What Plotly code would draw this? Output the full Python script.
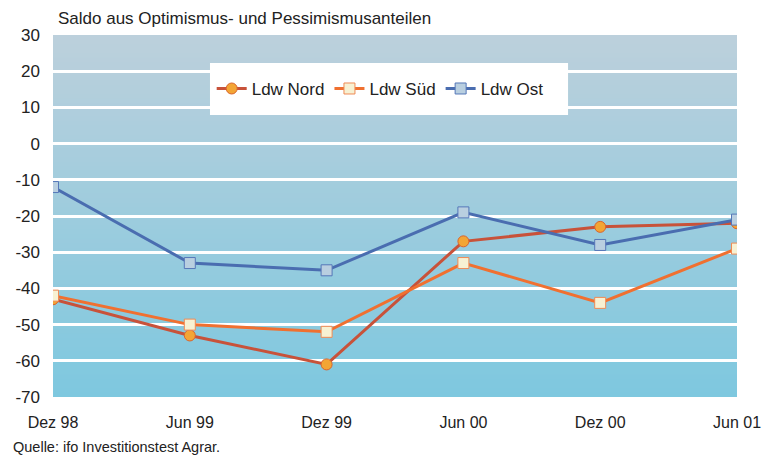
import plotly.graph_objects as go

categories = ["Dez 98", "Jun 99", "Dez 99", "Jun 00", "Dez 00", "Jun 01"]
nord = [-43, -53, -61, -27, -23, -22]
sued = [-42, -50, -52, -33, -44, -29]
ost = [-12, -33, -35, -19, -28, -21]
y_ticks = [30, 20, 10, 0, -10, -20, -30, -40, -50, -60, -70]
y_tick_labels = [str(v) for v in y_ticks]

fig = go.Figure()

fig.add_trace(go.Scatter(
    x=categories, y=nord, name="Ldw Nord", mode="lines+markers",
    line=dict(color="#c8523a", width=3),
    marker=dict(symbol="circle", size=11, color="#f3a535",
                line=dict(color="#d9642e", width=1)),
))
fig.add_trace(go.Scatter(
    x=categories, y=sued, name="Ldw Süd", mode="lines+markers",
    line=dict(color="#f07030", width=3),
    marker=dict(symbol="square", size=11, color="#f7f1d3",
                line=dict(color="#ef8a55", width=1)),
))
fig.add_trace(go.Scatter(
    x=categories, y=ost, name="Ldw Ost", mode="lines+markers",
    line=dict(color="#4a6db0", width=3),
    marker=dict(symbol="square", size=11, color="#b9cfe0",
                line=dict(color="#5577b8", width=1)),
))

# vertical gradient background for the plot area (stacked, overlapping rects -> no seams)
top = (188, 208, 220)
bot = (126, 200, 223)
n = 80
shapes = []
for i in range(n):
    t = i / (n - 1)
    c = tuple(round(top[k] + (bot[k] - top[k]) * t) for k in range(3))
    shapes.append(dict(
        type="rect", xref="paper", yref="paper",
        x0=0, x1=1, y0=0, y1=1 - i / n,
        fillcolor="rgb(%d,%d,%d)" % c, line=dict(width=0), layer="below",
    ))
# white legend panel
shapes.append(dict(
    type="rect", xref="paper", yref="paper",
    x0=0.2295, x1=0.753, y0=0.779, y1=0.9227,
    fillcolor="white", line=dict(width=0), layer="between",
))

fig.update_layout(
    width=773, height=458,
    margin=dict(l=53, r=36, t=35, b=61),
    paper_bgcolor="white",
    plot_bgcolor="rgba(0,0,0,0)",
    shapes=shapes,
    font=dict(family="Liberation Sans, Arial, sans-serif", size=16, color="#222222"),
    showlegend=True,
    legend=dict(
        orientation="h", x=0.232, y=0.851, xanchor="left", yanchor="middle",
        bgcolor="rgba(0,0,0,0)", borderwidth=0,
        font=dict(size=17, color="#222222"),
        itemwidth=30, tracegroupgap=0,
    ),
    annotations=[
        dict(text="Saldo aus Optimismus- und Pessimismusanteilen",
             xref="paper", yref="paper", x=0.0, y=1.0, xshift=3, yshift=17,
             xanchor="left", yanchor="middle", showarrow=False,
             font=dict(size=17, color="#222222")),
        dict(text="Quelle: ifo Investitionstest Agrar.",
             xref="paper", yref="paper", x=0, xshift=-42, y=0, yshift=-60,
             xanchor="left", yanchor="bottom", showarrow=False,
             font=dict(size=14.5, color="#222222")),
    ],
)

fig.update_xaxes(
    type="category", range=[0, 5], showgrid=False, zeroline=False,
    showline=False, ticks="", tickfont=dict(size=16), ticklabelstandoff=14,
)
fig.update_yaxes(
    range=[-70, 30], tickvals=y_ticks, ticktext=y_tick_labels,
    showgrid=True, gridcolor="white",
    gridwidth=3, zeroline=False, showline=False, ticks="",
    tickfont=dict(size=17), ticklabelstandoff=12,
)

fig.write_html(
    "out.html",
    config={"displayModeBar": False},
    post_script="document.body.style.margin='0';",
)
